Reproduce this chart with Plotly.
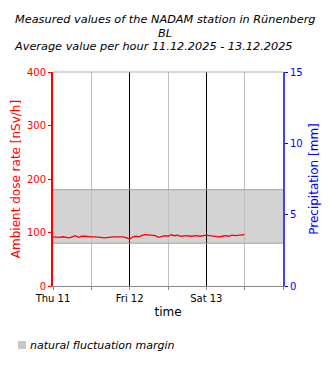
import pandas as pd
import plotly.graph_objects as go

# Hourly mean ambient dose rate [nSv/h], starting Thu 11.12.2025 00:00
dose_rate = [
    92, 91, 91, 92, 91, 90, 92, 94, 91, 93, 93, 92,
    92, 92, 92, 91, 90, 91, 92, 92, 92, 92, 92, 90,
    88, 92, 93, 92, 95, 96, 95, 95, 94, 91, 92, 94,
    93, 96, 94, 95, 93, 94, 94, 93, 94, 94, 93, 94,
    95, 94, 93, 92, 92, 93, 94, 93, 95, 94, 95, 96, 96,
]
start = pd.Timestamp("2025-12-11 00:00")
times = pd.date_range(start, periods=len(dose_rate), freq="h")

# Natural fluctuation margin of the dose rate [nSv/h]
margin_low, margin_high = 80, 180

day_ticks = pd.date_range("2025-12-11", periods=3, freq="D")
half_day_ticks = pd.date_range("2025-12-11", periods=7, freq="12h")
half_day_labels = ["Thu 11", "", "Fri 12", "", "Sat 13", "", ""]
x_end = pd.Timestamp("2025-12-14 00:00")

FONT = "DejaVu Sans"

fig = go.Figure()
fig.add_trace(go.Scatter(
    x=times, y=dose_rate, mode="lines",
    line=dict(color="red", width=1.3),
    showlegend=False, hoverinfo="x+y",
))
# invisible traces keep the precipitation axis and the day-grid axis active
fig.add_trace(go.Scatter(
    x=[start], y=[None], yaxis="y2", mode="lines", showlegend=False,
))
fig.add_trace(go.Scatter(
    x=[start], y=[None], xaxis="x2", mode="lines", showlegend=False,
))


def px_x(px):
    return (px - 53) / 230


def px_y(py):
    return (286 - py) / 214


shapes = [
    # fluctuation band
    dict(type="rect", xref="paper", yref="y", x0=0, x1=1,
         y0=margin_low, y1=margin_high,
         fillcolor="#d3d3d3", line=dict(width=0), layer="below"),
    dict(type="line", xref="paper", yref="y", x0=0, x1=1,
         y0=margin_high, y1=margin_high, line=dict(color="#a0a0a0", width=1)),
    dict(type="line", xref="paper", yref="y", x0=0, x1=1,
         y0=margin_low, y1=margin_low, line=dict(color="#a0a0a0", width=1)),
    # top frame
    dict(type="line", xref="paper", yref="paper", x0=0, x1=1, y0=1, y1=1,
         line=dict(color="#b0b0b0", width=1)),
    # legend swatch for the fluctuation band
    dict(type="rect", xref="paper", yref="paper",
         x0=px_x(18), x1=px_x(26), y0=px_y(349), y1=px_y(341),
         fillcolor="#c8c8c8", line=dict(width=0)),
]

fig.update_layout(
    width=330, height=370,
    margin=dict(l=53, r=47, t=72, b=84),
    paper_bgcolor="white", plot_bgcolor="white",
    font=dict(family=FONT, size=10, color="black"),
    shapes=shapes,
    xaxis=dict(
        range=[start, x_end],
        tickvals=list(half_day_ticks), ticktext=half_day_labels,
        ticks="outside", ticklen=3, tickcolor="#888888",
        showgrid=True, gridcolor="#c0c0c0", gridwidth=1,
        showline=True, linecolor="#888888", linewidth=1,
        zeroline=False,
        title=dict(text="time", font=dict(size=12, color="black"), standoff=4),
        tickfont=dict(size=10, color="black"),
    ),
    # overlay axis drawing the black midnight separators
    xaxis2=dict(
        range=[start, x_end], overlaying="x", side="bottom",
        tickvals=list(day_ticks[1:]), showticklabels=False, ticks="",
        showgrid=True, gridcolor="black", gridwidth=1,
        showline=False, zeroline=False,
    ),
    yaxis=dict(
        range=[0, 400], tickvals=[0, 100, 200, 300, 400],
        ticks="outside", ticklen=3, tickcolor="red",
        showgrid=False, zeroline=False,
        showline=True, linecolor="red", linewidth=2,
        tickfont=dict(size=10, color="red"),
        title=dict(text="Ambient dose rate [nSv/h]",
                   font=dict(size=12, color="red"), standoff=4),
    ),
    yaxis2=dict(
        range=[0, 15], tickvals=[0, 5, 10, 15],
        overlaying="y", side="right",
        ticks="outside", ticklen=3, tickcolor="blue",
        showgrid=False, zeroline=False,
        showline=True, linecolor="#4040ff", linewidth=2,
        tickfont=dict(size=10, color="blue"),
        title=dict(text="Precipitation [mm]",
                   font=dict(size=12, color="blue"), standoff=8),
    ),
    annotations=[
        dict(text="<i>Measured values of the NADAM station in Rünenberg</i>",
             xref="paper", yref="paper", x=px_x(13), y=px_y(20),
             xanchor="left", yanchor="middle", showarrow=False,
             font=dict(size=11.3, color="black")),
        dict(text="<i>BL</i>",
             xref="paper", yref="paper", x=px_x(165), y=px_y(33),
             xanchor="center", yanchor="middle", showarrow=False,
             font=dict(size=11.3, color="black")),
        dict(text="<i>Average value per hour 11.12.2025 - 13.12.2025</i>",
             xref="paper", yref="paper", x=px_x(12), y=px_y(47),
             xanchor="left", yanchor="middle", showarrow=False,
             font=dict(size=11.3, color="black")),
        dict(text="<i>natural fluctuation margin</i>",
             xref="paper", yref="paper", x=px_x(28), y=px_y(345),
             xanchor="left", yanchor="middle", showarrow=False,
             font=dict(size=11, color="black")),
    ],
)

fig.write_html("out.html")
